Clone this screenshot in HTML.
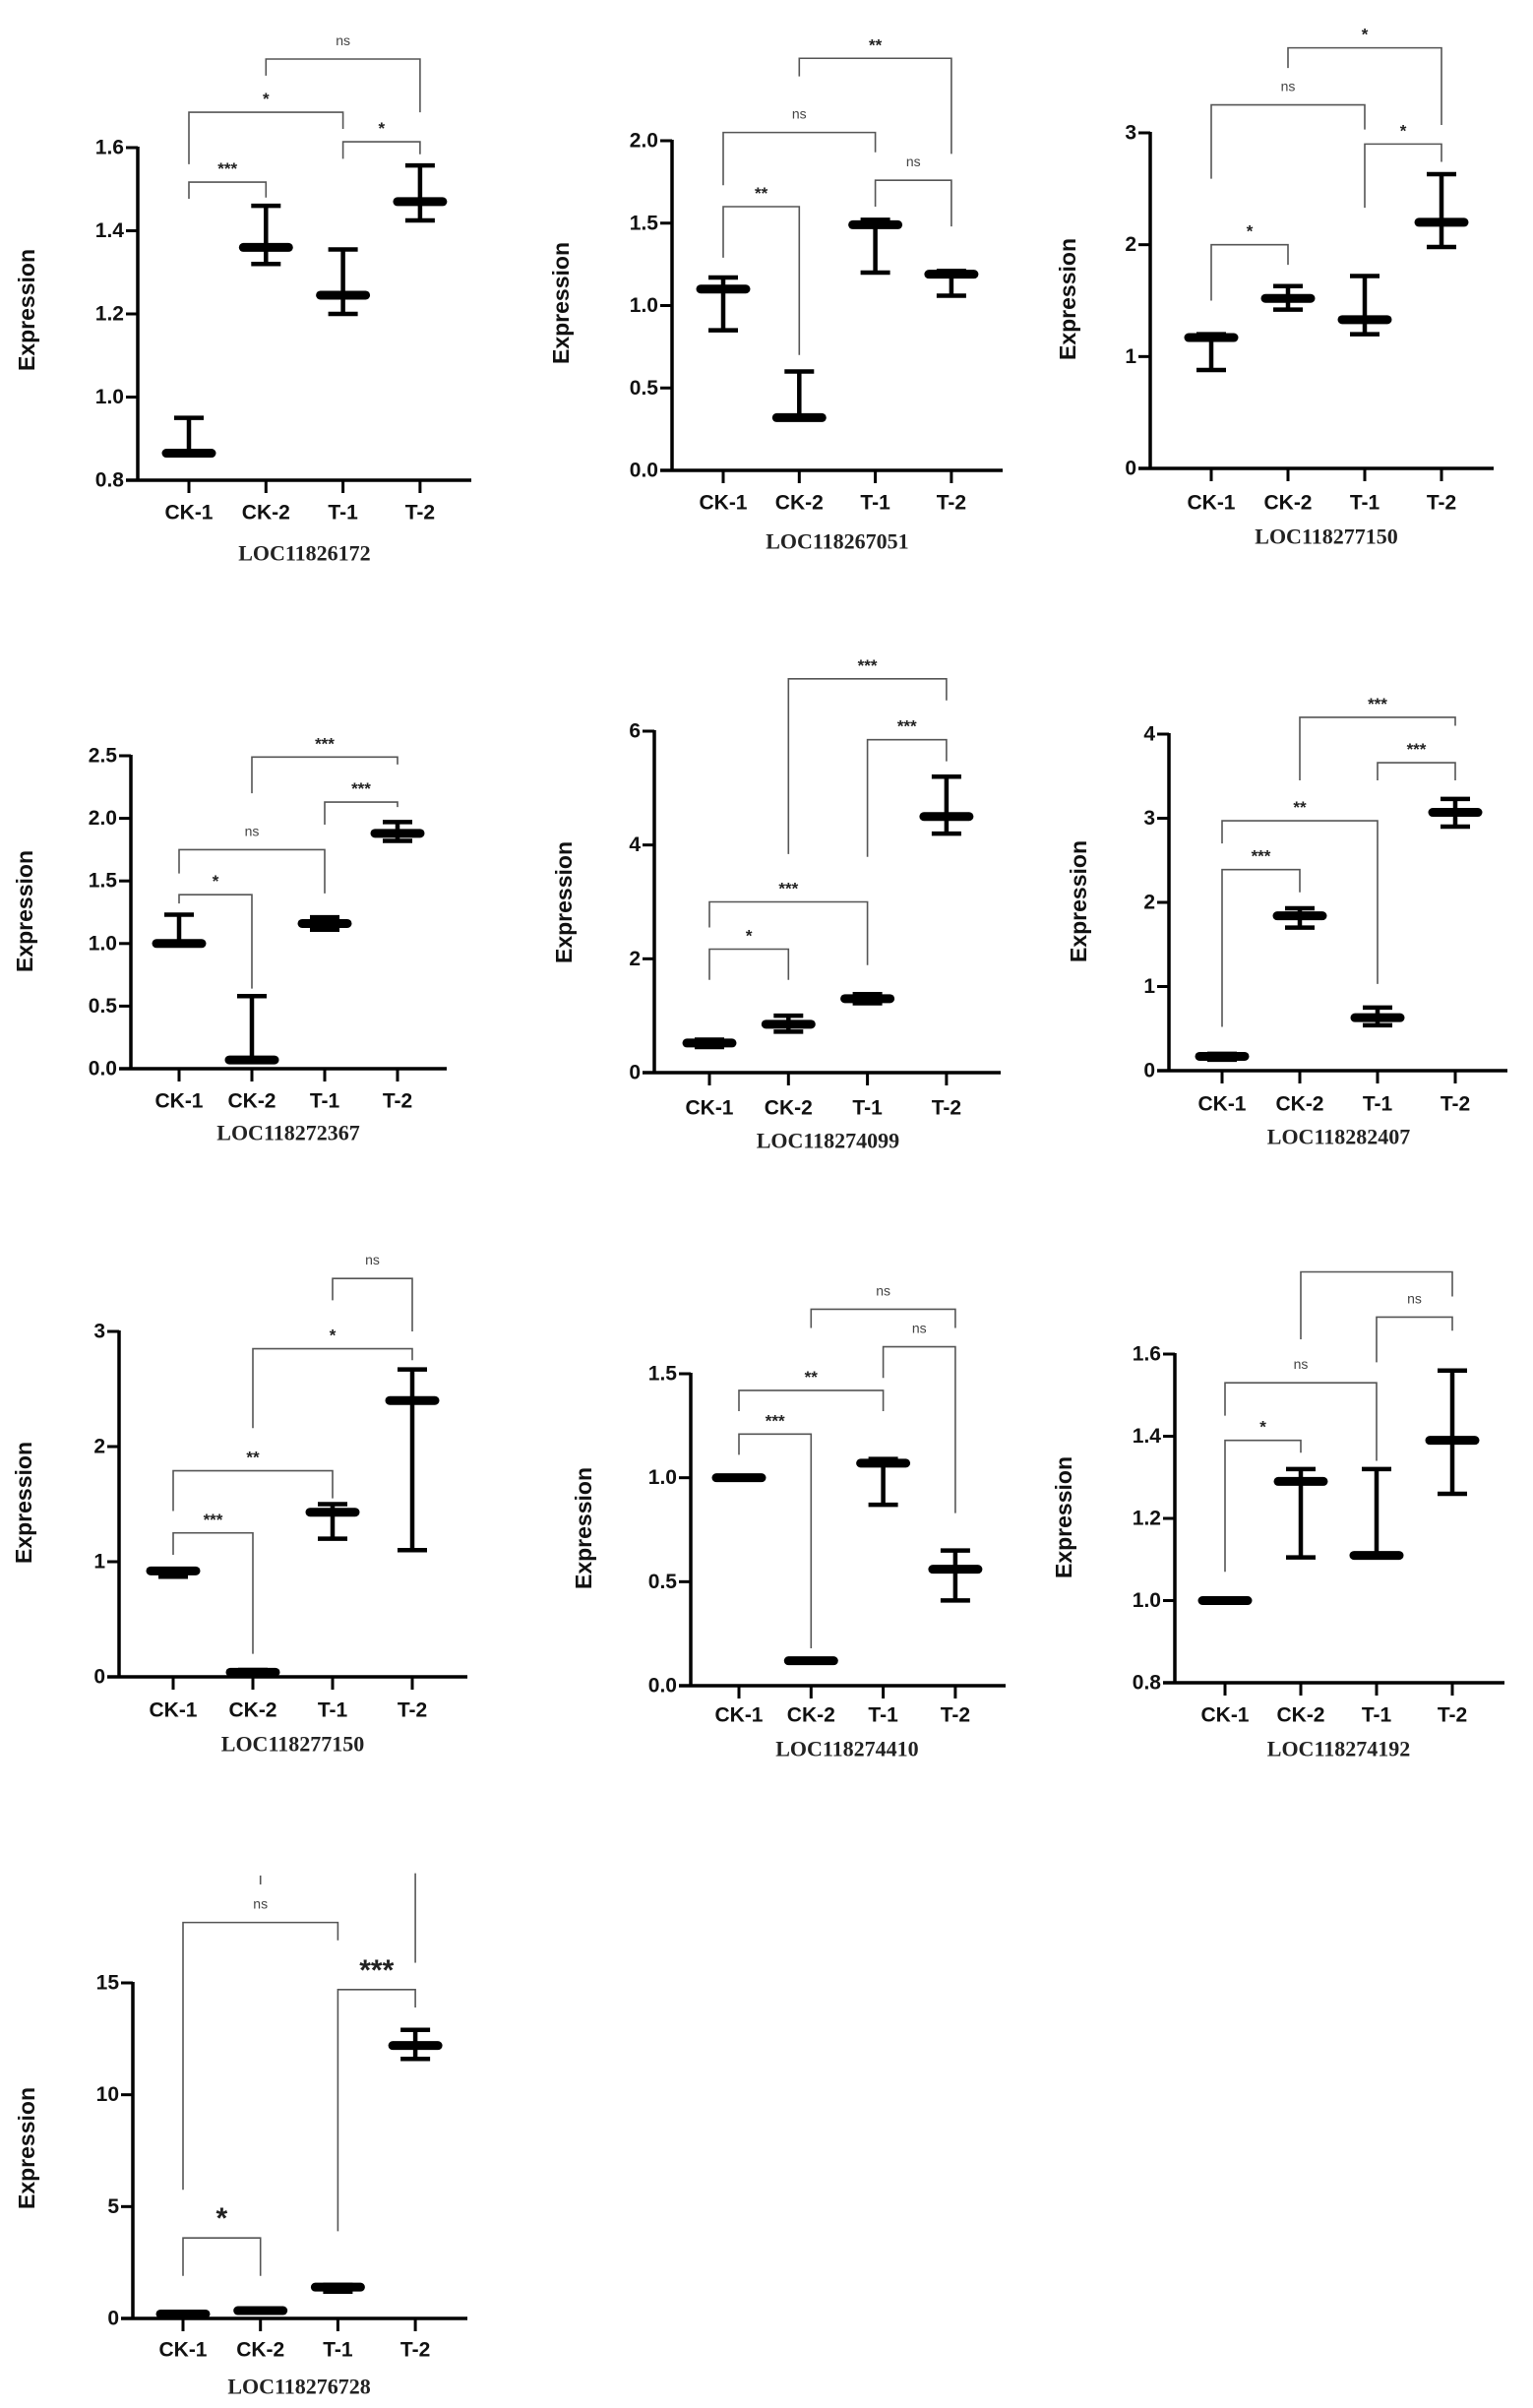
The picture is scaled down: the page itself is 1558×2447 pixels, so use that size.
<!DOCTYPE html>
<html><head><meta charset="utf-8">
<style>
html,body{margin:0;padding:0;background:#fff;}
svg{display:block;}
text{font-family:"Liberation Sans",sans-serif;}
</style></head>
<body>
<svg id="fig" width="1558" height="2447" viewBox="0 0 1558 2447" xmlns="http://www.w3.org/2000/svg"></svg>
<script>
// ---- data ----
const categories = ["CK-1","CK-2","T-1","T-2"];
const geneNames = ["LOC11826172","LOC118267051","LOC118277150","LOC118272367","LOC118274099","LOC118282407","LOC118277150","LOC118274410","LOC118274192","LOC118276728"];

const means_p1 = [0.865,1.36,1.245,1.47];
const low_p1   = [0.865,1.32,1.2,1.425];
const high_p1  = [0.95,1.46,1.355,1.557];
const ticks_p1 = ["0.8","1.0","1.2","1.4","1.6"];
const brackets_p1 = [[0,1,1.517,1.477,1.48,"***"],[0,2,1.685,1.56,1.645,"*"],[2,3,1.614,1.573,1.584,"*"],[1,3,1.813,1.773,1.685,"ns"]];

const means_p2 = [1.1,0.32,1.49,1.19];
const low_p2   = [0.85,0.32,1.2,1.06];
const high_p2  = [1.17,0.6,1.52,1.21];
const ticks_p2 = ["0.0","0.5","1.0","1.5","2.0"];
const brackets_p2 = [[0,1,1.6,1.29,0.70,"**"],[0,2,2.05,1.73,1.93,"ns"],[2,3,1.76,1.6,1.48,"ns"],[1,3,2.5,2.39,1.92,"**"]];

const means_p3 = [1.17,1.52,1.33,2.2];
const low_p3   = [0.88,1.42,1.2,1.98];
const high_p3  = [1.2,1.63,1.72,2.63];
const ticks_p3 = ["0","1","2","3"];
const brackets_p3 = [[0,1,2.0,1.5,1.82,"*"],[0,2,3.25,2.59,3.03,"ns"],[2,3,2.9,2.33,2.74,"*"],[1,3,3.76,3.58,3.07,"*"]];

const means_p4 = [1.0,0.07,1.16,1.88];
const low_p4   = [1.0,0.07,1.11,1.82];
const high_p4  = [1.23,0.58,1.21,1.97];
const ticks_p4 = ["0.0","0.5","1.0","1.5","2.0","2.5"];
const brackets_p4 = [[0,1,1.39,1.32,0.64,"*"],[0,2,1.75,1.56,1.40,"ns"],[2,3,2.13,1.95,2.09,"***"],[1,3,2.49,2.2,2.43,"***"]];

const means_p5 = [0.52,0.85,1.3,4.5];
const low_p5   = [0.45,0.72,1.22,4.2];
const high_p5  = [0.58,1.0,1.38,5.2];
const ticks_p5 = ["0","2","4","6"];
const brackets_p5 = [[0,1,2.17,1.63,1.63,"*"],[0,2,3.0,2.55,1.89,"***"],[2,3,5.85,3.79,5.47,"***"],[1,3,6.92,3.84,6.54,"***"]];

const means_p6 = [0.17,1.84,0.63,3.07];
const low_p6   = [0.13,1.7,0.54,2.9];
const high_p6  = [0.2,1.93,0.75,3.23];
const ticks_p6 = ["0","1","2","3","4"];
const brackets_p6 = [[0,1,2.39,0.52,2.12,"***"],[0,2,2.97,2.7,1.03,"**"],[2,3,3.66,3.45,3.45,"***"],[1,3,4.2,3.45,4.1,"***"]];

const means_p7 = [0.92,0.04,1.43,2.4];
const low_p7   = [0.87,0.04,1.2,1.1];
const high_p7  = [0.93,0.06,1.5,2.67];
const ticks_p7 = ["0","1","2","3"];
const brackets_p7 = [[0,1,1.25,1.06,0.2,"***"],[0,2,1.79,1.44,1.55,"**"],[1,3,2.85,2.16,2.75,"*"],[2,3,3.46,3.27,3.0,"ns"]];

const means_p8 = [1.0,0.12,1.07,0.56];
const low_p8   = [1.0,0.12,0.87,0.41];
const high_p8  = [1.0,0.12,1.09,0.65];
const ticks_p8 = ["0.0","0.5","1.0","1.5"];
const brackets_p8 = [[0,1,1.21,1.11,0.18,"***"],[0,2,1.42,1.32,1.32,"**"],[2,3,1.63,1.48,0.83,"ns"],[1,3,1.81,1.72,1.72,"ns"]];

const means_p9 = [1.0,1.29,1.11,1.39];
const low_p9   = [1.0,1.105,1.105,1.26];
const high_p9  = [1.0,1.32,1.32,1.56];
const ticks_p9 = ["0.8","1.0","1.2","1.4","1.6"];
const brackets_p9 = [[0,1,1.39,1.07,1.36,"*"],[0,2,1.53,1.45,1.34,"ns"],[2,3,1.69,1.58,1.657,"ns"],[1,3,1.80,1.636,1.74,""]];

const means_p10 = [0.2,0.35,1.4,12.2];
const low_p10   = [0.2,0.35,1.2,11.6];
const high_p10  = [0.25,0.4,1.5,12.9];
const ticks_p10 = ["0","5","10","15"];
const brackets_p10 = [[0,1,3.6,1.9,1.9,"*"],[0,2,17.7,5.75,16.9,"ns"],[2,3,14.7,3.9,13.9,"***"]];

// ---- layout (geometry only) ----
const panels = [
 {means:means_p1,low:low_p1,high:high_p1,ticks:ticks_p1,br:brackets_p1,ax:140,yTop:150,yBot:488,cat0:192,step:78.3,end:479,catY:521,locY:562,exX:27,exY:315,big:false},
 {means:means_p2,low:low_p2,high:high_p2,ticks:ticks_p2,br:brackets_p2,ax:683,yTop:143,yBot:478,cat0:735,step:77.3,end:1019,catY:511,locY:550,exX:570,exY:308,big:false},
 {means:means_p3,low:low_p3,high:high_p3,ticks:ticks_p3,br:brackets_p3,ax:1169,yTop:135,yBot:476,cat0:1231,step:78,end:1518,catY:511,locY:545,exX:1085,exY:304,big:false},
 {means:means_p4,low:low_p4,high:high_p4,ticks:ticks_p4,br:brackets_p4,ax:133,yTop:768,yBot:1086,cat0:182,step:74,end:454,catY:1119,locY:1151,exX:25,exY:926,big:false},
 {means:means_p5,low:low_p5,high:high_p5,ticks:ticks_p5,br:brackets_p5,ax:665,yTop:743,yBot:1090,cat0:721,step:80.3,end:1017,catY:1126,locY:1159,exX:573,exY:917,big:false},
 {means:means_p6,low:low_p6,high:high_p6,ticks:ticks_p6,br:brackets_p6,ax:1188,yTop:746,yBot:1088,cat0:1242,step:79,end:1532,catY:1122,locY:1155,exX:1096,exY:916,big:false},
 {means:means_p7,low:low_p7,high:high_p7,ticks:ticks_p7,br:brackets_p7,ax:121,yTop:1353,yBot:1704,cat0:176,step:81,end:475,catY:1738,locY:1772,exX:24,exY:1527,big:false},
 {means:means_p8,low:low_p8,high:high_p8,ticks:ticks_p8,br:brackets_p8,ax:702,yTop:1396,yBot:1713,cat0:751,step:73.3,end:1022,catY:1743,locY:1777,exX:593,exY:1553,big:false},
 {means:means_p9,low:low_p9,high:high_p9,ticks:ticks_p9,br:brackets_p9,ax:1194,yTop:1376,yBot:1710,cat0:1245,step:77,end:1529,catY:1743,locY:1777,exX:1081,exY:1542,big:false},
 {means:means_p10,low:low_p10,high:high_p10,ticks:ticks_p10,br:brackets_p10,ax:135,yTop:2015,yBot:2356,cat0:186,step:78.7,end:475,catY:2388,locY:2425,exX:27,exY:2183,big:true}
];

const NS="http://www.w3.org/2000/svg";
const svg=document.getElementById('fig');
function mk(tag,attrs,parent,txt){const e=document.createElementNS(NS,tag);for(const k in attrs)e.setAttribute(k,attrs[k]);if(txt!==undefined)e.textContent=txt;parent.appendChild(e);return e;}

panels.forEach((p,pi)=>{
  const g=mk('g',{},svg);
  
  
  const tv=p.ticks.map(Number);
  const vmin=tv[0], vmax=tv[tv.length-1];
  const yS=v=>p.yBot-(v-vmin)/(vmax-vmin)*(p.yBot-p.yTop);
  const xS=i=>p.cat0+i*p.step;

  // axes
  const ya=mk('line',{x1:p.ax,y1:p.yTop-1,x2:p.ax,y2:p.yBot+1.5,stroke:'#000','stroke-width':3.5},g);
  
  
  const xa=mk('line',{x1:p.ax-12,y1:p.yBot,x2:p.end,y2:p.yBot,stroke:'#000','stroke-width':3.5},g);
  
  

  p.ticks.forEach((t,ti)=>{
    const y=yS(tv[ti]);
    mk('line',{x1:p.ax-12,y1:y,x2:p.ax,y2:y,stroke:'#000','stroke-width':3},g);
    const tl=mk('text',{x:p.ax-14,y:y,'text-anchor':'end','dominant-baseline':'central','font-size':21,'font-weight':'bold',fill:'#111'},g,t);
    
    
  });

  categories.forEach((c,i)=>{
    const x=xS(i);
    mk('line',{x1:x,y1:p.yBot,x2:x,y2:p.yBot+13,stroke:'#000','stroke-width':3},g);
    const cl=mk('text',{x:x,y:p.catY,'text-anchor':'middle','dominant-baseline':'central','font-size':21,'font-weight':'bold',fill:'#111'},g,c);
    
    

    // error bar
    const m=p.means[i], lo=p.low[i], hi=p.high[i];
    const eb=mk('g',{},g);
    
    
    if(hi>m+1e-9){
      mk('line',{x1:x,y1:yS(m),x2:x,y2:yS(hi),stroke:'#000','stroke-width':4.5},eb);
      mk('line',{x1:x-15,y1:yS(hi),x2:x+15,y2:yS(hi),stroke:'#000','stroke-width':4.5},eb);
    }
    if(lo<m-1e-9){
      mk('line',{x1:x,y1:yS(m),x2:x,y2:yS(lo),stroke:'#000','stroke-width':4.5},eb);
      mk('line',{x1:x-15,y1:yS(lo),x2:x+15,y2:yS(lo),stroke:'#000','stroke-width':4.5},eb);
    }
    const mb=mk('line',{x1:x-23,y1:yS(m),x2:x+23,y2:yS(m),stroke:'#000','stroke-width':9,'stroke-linecap':'round'},g);
    
    
  });

  // brackets
  p.br.forEach(b=>{
    const [i,j,top,lb,rb,lab]=b;
    const x1=xS(i), x2=xS(j), yt=yS(top);
    const bg=mk('g',{},g);
    
    
    mk('polyline',{points:`${x1},${yS(lb)} ${x1},${yt} ${x2},${yt} ${x2},${yS(rb)}`,fill:'none',stroke:'#555','stroke-width':1.6},bg);
    if(lab){
      const isNs=lab==='ns';
      const fs=p.big&&!isNs?30:(isNs?14:17);
      const off=p.big&&!isNs?10:(isNs?14:8);
      const st=mk('text',{x:(x1+x2)/2,y:yt-off,'text-anchor':'middle','font-size':fs,'font-weight':isNs?'normal':'bold',fill:isNs?'#444':'#222'},bg,lab);
      
      
    }
  });

  // axis titles
  const ex=mk('text',{x:p.exX,y:p.exY,'text-anchor':'middle','dominant-baseline':'central','font-size':23,'font-weight':'bold',fill:'#111',transform:`rotate(-90 ${p.exX} ${p.exY})`},g,'Expression');
  
  
  const lt=mk('text',{x:(xS(0)+xS(3))/2,y:p.locY,'text-anchor':'middle','dominant-baseline':'central','font-size':22,'font-weight':'bold',fill:'#222',style:'font-family:"Liberation Serif",serif'},g,geneNames[pi]);
  
  
});

// stray marks at the top of panel 10 (drawn through panel 10's scale)
const strayVals = [19.9,15.9,19.8,19.4];
(function(){
  const p=panels[9]; const tv=p.ticks.map(Number);
  const yS=v=>p.yBot-(v-tv[0])/(tv[tv.length-1]-tv[0])*(p.yBot-p.yTop);
  const xS=i=>p.cat0+i*p.step;
  const l1=mk('line',{x1:xS(3),y1:yS(strayVals[0]),x2:xS(3),y2:yS(strayVals[1]),stroke:'#555','stroke-width':1.6},svg);
  
  
  const l2=mk('line',{x1:xS(1),y1:yS(strayVals[2]),x2:xS(1),y2:yS(strayVals[3]),stroke:'#555','stroke-width':1.6},svg);
  
  
})();
</script>
</body></html>
